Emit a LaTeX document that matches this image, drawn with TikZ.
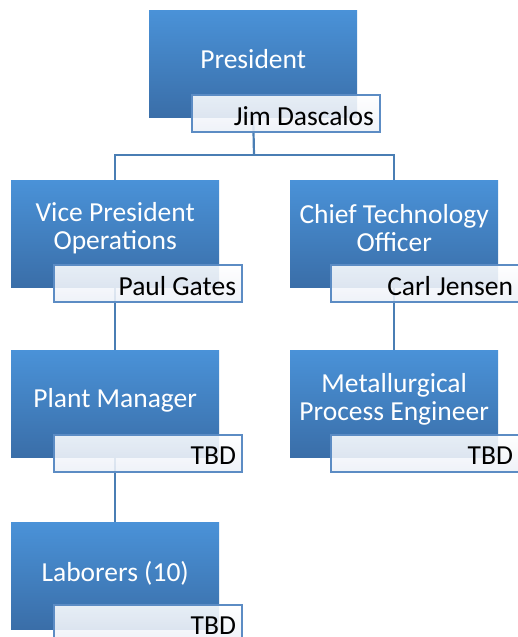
\documentclass[tikz,border=0pt]{standalone}
\usepackage{fontspec}
\setmainfont{Carlito}
\usetikzlibrary{backgrounds}
\definecolor{btop}{RGB}{74,146,216}
\definecolor{bbot}{RGB}{58,110,168}
\definecolor{nborder}{RGB}{92,140,196}
\definecolor{nfill}{RGB}{236,240,247}
\definecolor{conn}{RGB}{74,126,180}
\tikzset{
  rolebox/.style={anchor=north west, minimum width=208pt, minimum height=107pt,
    inner sep=0pt, top color=btop, bottom color=bbot, draw=none},
  roletext/.style={text=white, font=\fontsize{27.5}{28}\selectfont, align=center, inner sep=0pt},
  namebox/.style={anchor=north west, minimum width=188pt, minimum height=37pt,
    inner sep=0pt, draw=nborder, line width=2.2pt, top color=white, bottom color=nfill,
    fill opacity=0.88, text opacity=1},
  nametext/.style={anchor=east, text=black, font=\fontsize{27.5}{30}\selectfont, inner sep=0pt},
  link/.style={draw=conn, line width=2.2pt}
}
\begin{document}
\begin{tikzpicture}[x=1pt,y=-1pt]
\useasboundingbox (0,0) rectangle (518,637);
% role boxes
\node[rolebox] (pres) at (149,10) {};
\node[rolebox] (vp)   at (11,180) {};
\node[rolebox] (cto)  at (290,180) {};
\node[rolebox] (pm)   at (11,350) {};
\node[rolebox] (met)  at (290,350) {};
\node[rolebox] (lab)  at (11,522) {};
% connectors
\begin{scope}[on background layer]
\coordinate (j1) at (254,155);
\draw[link] (pres.south) -- (j1);
\draw[link] (j1) -| (vp.north);
\draw[link] (j1) -| (cto.north);
\draw[link] (vp.south) -- (pm.north);
\draw[link] (pm.south) -- (lab.north);
\draw[link] (cto.south) -- (met.north);
\end{scope}
% role texts
\node[roletext] (presT) at ([yshift=-49pt]pres.north) {President};
\node[roletext] (vpT)   at ([yshift=-48pt]vp.north) {Vice President\\Operations};
\node[roletext] (ctoT)  at ([yshift=-48pt]cto.north) {Chief Technology\\Officer};
\node[roletext] (pmT)   at ([yshift=-50pt]pm.north) {Plant Manager};
\node[roletext] (metT)  at ([yshift=-49pt]met.north) {Metallurgical\\Process Engineer};
\node[roletext] (labT)  at ([yshift=-51pt]lab.north) {Laborers (10)};
% name boxes
\node[namebox] (presN) at (191,94) {};
\node[namebox] (vpN)   at (53,264) {};
\node[namebox] (ctoN)  at (330,264) {};
\node[namebox] (pmN)   at (53,434) {};
\node[namebox] (metN)  at (330,434) {};
\node[namebox] (labN)  at (53,604) {};
\node[nametext] at ([xshift=-7pt,yshift=-2pt]presN.east) {Jim Dascalos};
\node[nametext] at ([xshift=-7pt,yshift=-2pt]vpN.east) {Paul Gates};
\node[nametext] at ([xshift=-7pt,yshift=-2pt]ctoN.east) {Carl Jensen};
\node[nametext] at ([xshift=-7pt,yshift=-2pt]pmN.east) {TBD};
\node[nametext] at ([xshift=-7pt,yshift=-2pt]metN.east) {TBD};
\node[nametext] at ([xshift=-7pt,yshift=-2pt]labN.east) {TBD};
\end{tikzpicture}
\end{document}
